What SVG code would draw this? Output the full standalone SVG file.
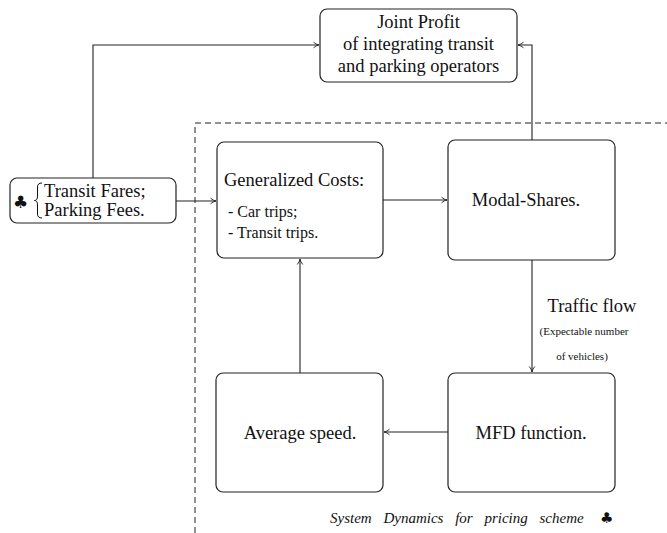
<svg xmlns="http://www.w3.org/2000/svg" width="667" height="533" viewBox="0 0 667 533">
  <defs>
    <marker id="arr" viewBox="0 0 8 8" refX="7.5" refY="4" markerWidth="8" markerHeight="8" markerUnits="userSpaceOnUse" orient="auto">
      <path d="M2,1.2 Q4.5,3.4 7.5,4 Q4.5,4.6 2,6.8" fill="none" stroke="#222" stroke-width="0.9"/>
    </marker>
  </defs>
  <style>
    .box { fill: #fff; stroke: #222; stroke-width: 1.2; }
    .t { font-family: "Liberation Serif", "Times New Roman", serif; font-size: 18.5px; fill: #111; }
    .s { font-family: "Liberation Serif", "Times New Roman", serif; font-size: 16px; fill: #111; }
    .xs { font-family: "Liberation Serif", "Times New Roman", serif; font-size: 11px; fill: #111; }
    .cap { font-family: "Liberation Serif", "Times New Roman", serif; font-size: 15px; font-style: italic; fill: #111; word-spacing: 8px; }
    .sym { font-family: "DejaVu Sans", sans-serif; fill: #111; }
    .c { fill: none; stroke: #222; stroke-width: 1.1; }
    .dash { fill: none; stroke: #222; stroke-width: 1; stroke-dasharray: 6 4; }
  </style>

  <rect width="667" height="533" fill="#fff"/>

  <!-- system boundary -->
  <g id="boundary">
    <path class="dash" d="M195,533 V123 H667"/>
  </g>

  <!-- connectors -->
  <g id="connectors">
    <path class="c" d="M93,178 V45 H319" marker-end="url(#arr)"/>
    <path class="c" d="M532,140 V45 H518" marker-end="url(#arr)"/>
    <path class="c" d="M176,201 H216" marker-end="url(#arr)"/>
    <path class="c" d="M383,200 H447" marker-end="url(#arr)"/>
    <path class="c" d="M532,260 V372" marker-end="url(#arr)"/>
    <path class="c" d="M448,432 H384" marker-end="url(#arr)"/>
    <path class="c" d="M300,373 V259" marker-end="url(#arr)"/>
  </g>

  <g id="profit">
    <rect class="box" x="320" y="9" width="197" height="73" rx="7"/>
    <text class="t" x="418.5" y="28" text-anchor="middle">Joint Profit</text>
    <text class="t" x="418.5" y="50" text-anchor="middle">of integrating transit</text>
    <text class="t" x="418.5" y="72" text-anchor="middle">and parking operators</text>
  </g>

  <g id="pricing">
    <rect class="box" x="10" y="178" width="166" height="45" rx="7"/>
    <text class="sym" x="13" y="208" font-size="17">♣</text>
    <path d="M42,183 Q37.5,183 37.5,187 V196 Q37.5,200.5 34.5,200.5 Q37.5,200.5 37.5,205 V214 Q37.5,218 42,218" fill="none" stroke="#111" stroke-width="1"/>
    <text class="t" x="44" y="197">Transit Fares;</text>
    <text class="t" x="44" y="216">Parking Fees.</text>
  </g>

  <g id="costs">
    <rect class="box" x="217" y="142" width="166" height="116" rx="7"/>
    <text class="t" x="224" y="186">Generalized Costs:</text>
    <text class="s" x="228" y="217">- Car trips;</text>
    <text class="s" x="228" y="238">- Transit trips.</text>
  </g>

  <g id="modal">
    <rect class="box" x="448" y="140" width="167" height="120" rx="7"/>
    <text class="t" x="526" y="206" text-anchor="middle">Modal-Shares.</text>
  </g>

  <g id="flow-label">
    <text class="t" x="592" y="312" text-anchor="middle">Traffic flow</text>
    <text class="xs" x="584" y="335" text-anchor="middle">(Expectable number</text>
    <text class="xs" x="582" y="360" text-anchor="middle">of vehicles)</text>
  </g>

  <g id="mfd">
    <rect class="box" x="448" y="373" width="167" height="119" rx="7"/>
    <text class="t" x="531" y="439" text-anchor="middle">MFD function.</text>
  </g>

  <g id="speed">
    <rect class="box" x="216" y="373" width="167" height="119" rx="7"/>
    <text class="t" x="300" y="439" text-anchor="middle">Average speed.</text>
  </g>

  <g id="caption">
    <text class="cap" x="330" y="523">System Dynamics for pricing scheme</text>
    <text class="sym" x="600" y="523" font-size="15">♣</text>
  </g>
</svg>
